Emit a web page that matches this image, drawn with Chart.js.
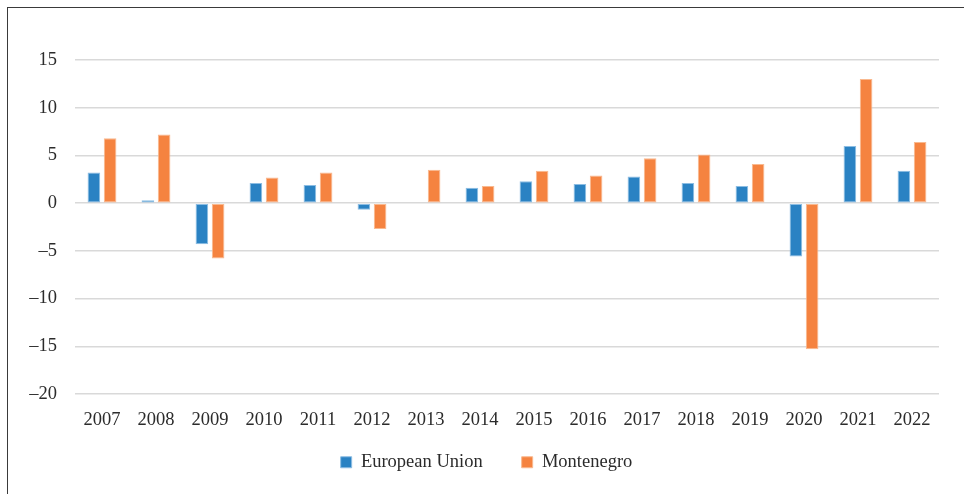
<!DOCTYPE html>
<html>
<head>
<meta charset="utf-8">
<script src="https://cdn.jsdelivr.net/npm/chart.js@4.4.0/dist/chart.umd.min.js"></script>
<style>
  html, body { margin: 0; padding: 0; background: #fff; overflow: hidden; }
  #frame { position: absolute; left: 7px; top: 7px; width: 1000px; height: 540px; border: 1.5px solid #3a3a3a; box-sizing: border-box; }
  #wrap { position: absolute; left: 0; top: 0; width: 964px; height: 494px; }
</style>
</head>
<body>
<div id="frame"></div>
<div id="wrap"><canvas id="growthChart" width="964" height="494"></canvas></div>
<script>
// GDP growth, %
const years = ['2007', '2008', '2009', '2010', '2011', '2012', '2013', '2014',
               '2015', '2016', '2017', '2018', '2019', '2020', '2021', '2022'];
const euValues = [3.2, 0.3, -4.3, 2.1, 1.9, -0.7, -0.1, 1.6, 2.3, 2.0, 2.8, 2.1, 1.8, -5.6, 6.0, 3.4];
const mneValues = [6.8, 7.2, -5.8, 2.7, 3.2, -2.7, 3.5, 1.8, 3.4, 2.9, 4.7, 5.1, 4.1, -15.3, 13.0, 6.4];
const yTicks = [15, 10, 5, 0, -5, -10, -15, -20];

const textColor = '#2b2b2b';
const fontFamily = '"Liberation Serif", "Times New Roman", serif';
const fontSize = 18.5;

// legend items need a wide gap, which also pushes them down, so move the box back up
const placeLegend = {
    id: 'placeLegend',
    afterLayout(chart) {
        const lg = chart.legend;
        if (!lg) return;
        lg.top = 414;
        lg.bottom = chart.height;
        lg.height = lg.bottom - lg.top;
        lg.left += 17;
        lg.right += 17;
    }
};

const ctx = document.getElementById('growthChart').getContext('2d');
new Chart(ctx, {
    type: 'bar',
    data: {
        labels: years,
        datasets: [{
            label: 'European Union',
            data: euValues,
            backgroundColor: '#2a82c3',
            borderColor: '#8cbde3',
            borderWidth: 1,
            borderSkipped: false,
            categoryPercentage: 0.6,
            barPercentage: 0.78
        }, {
            label: 'Montenegro',
            data: mneValues,
            backgroundColor: '#f58340',
            borderColor: '#f9b98f',
            borderWidth: 1,
            borderSkipped: false,
            categoryPercentage: 0.6,
            barPercentage: 0.78
        }]
    },
    options: {
        responsive: false,
        animation: false,
        layout: { padding: { top: 60, right: 25, left: 0, bottom: 0 } },
        plugins: {
            legend: {
                position: 'bottom',
                maxHeight: 60,
                labels: {
                    boxWidth: 11,
                    boxHeight: 11,
                    padding: 39,
                    color: textColor,
                    font: { family: fontFamily, size: fontSize }
                }
            },
            tooltip: { enabled: false }
        },
        scales: {
            x: {
                grid: { display: false },
                border: { display: false },
                ticks: {
                    color: textColor,
                    padding: 7,
                    maxRotation: 0,
                    font: { family: fontFamily, size: fontSize }
                },
                afterFit(scale) { scale.height = 40; }
            },
            y: {
                min: -20,
                max: 15,
                afterBuildTicks(scale) {
                    scale.ticks = yTicks.map(v => ({ value: v }));
                },
                grid: { color: '#d9d9d9', lineWidth: 1.5, drawTicks: false },
                border: { display: false },
                ticks: {
                    color: textColor,
                    padding: 18,
                    font: { family: fontFamily, size: fontSize },
                    callback: v => (v < 0 ? '\u2013' + Math.abs(v) : String(v))
                },
                afterFit(scale) { scale.width = 75; }
            }
        }
    },
    plugins: [placeLegend]
});
</script>
</body>
</html>
